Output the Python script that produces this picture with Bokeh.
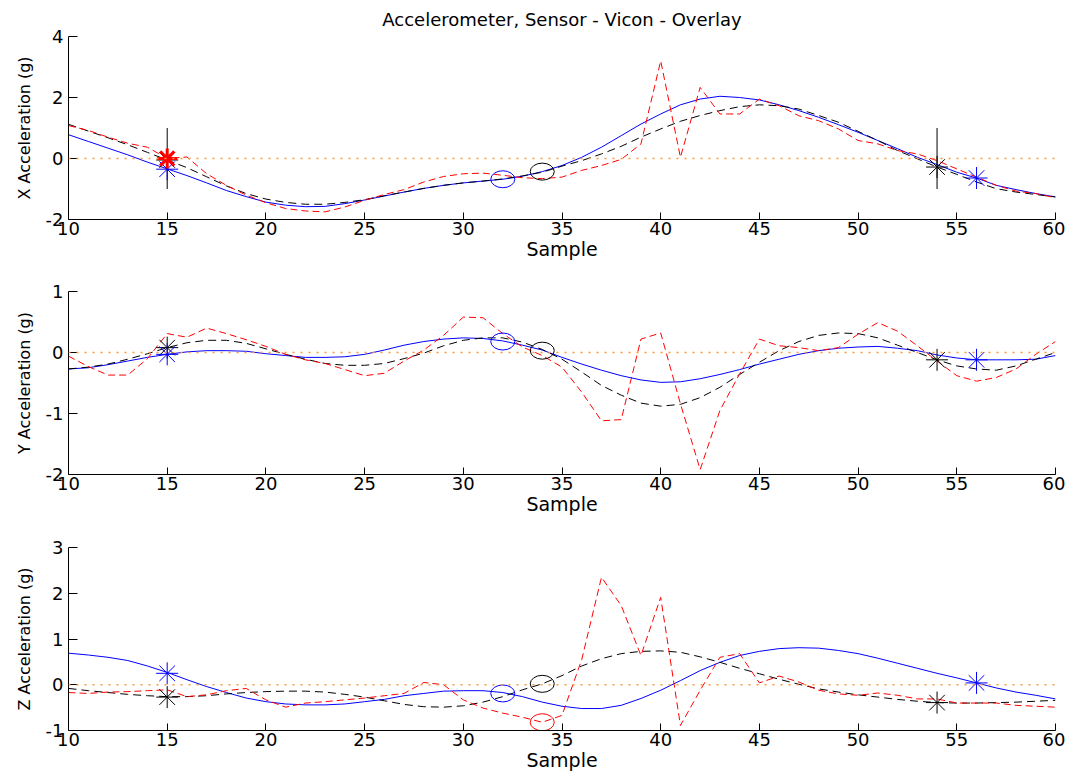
from bokeh.plotting import figure
from bokeh.layouts import column
from bokeh.models import Range1d, FixedTicker, Span
from bokeh.embed import file_html
from bokeh.resources import INLINE

# ---------------- data ----------------
samples = list(range(10, 61))

# X acceleration
x_sensor = [0.78, 0.56, 0.34, 0.12, -0.12, -0.34, -0.56, -0.8, -1.05, -1.25, -1.43, -1.53, -1.58, -1.57,
            -1.48, -1.36, -1.23, -1.1, -0.98, -0.88, -0.8, -0.74, -0.68, -0.58,
            -0.43, -0.23, 0.04, 0.37, 0.75, 1.13, 1.46, 1.76, 1.95, 2.04, 2.0, 1.92, 1.76, 1.57, 1.35,
            1.11, 0.86, 0.59, 0.32, 0.04, -0.2, -0.45, -0.64, -0.88, -1.02, -1.15, -1.26]
x_vicon = [1.12, 0.9, 0.68, 0.45, 0.2, -0.05, -0.3, -0.6, -0.9, -1.15, -1.33, -1.44, -1.5, -1.5,
           -1.44, -1.35, -1.22, -1.1, -0.98, -0.88, -0.8, -0.74, -0.67, -0.57,
           -0.45, -0.25, -0.07, 0.15, 0.4, 0.7, 0.97, 1.22, 1.41, 1.57, 1.7, 1.76, 1.73, 1.62, 1.41,
           1.19, 0.89, 0.59, 0.26, -0.01, -0.28, -0.52, -0.77, -0.99, -1.1, -1.18, -1.26]
x_raw = [1.08, 0.92, 0.7, 0.5, 0.37, 0.0, 0.05, -0.5, -0.88, -1.2, -1.45, -1.64, -1.72, -1.75,
         -1.59, -1.37, -1.18, -1.02, -0.77, -0.59, -0.5, -0.48, -0.55, -0.63,
         -0.66, -0.61, -0.39, -0.23, -0.03, 0.48, 3.2, 0.04, 2.33, 1.46, 1.46, 1.95, 1.73, 1.4, 1.24,
         0.97, 0.59, 0.48, 0.26, 0.15, -0.07, -0.34, -0.61, -0.88, -1.07, -1.15, -1.29]

# Y acceleration
y_sensor = [-0.27, -0.25, -0.2, -0.14, -0.08, -0.03, 0.01, 0.03, 0.03, 0.02, -0.02, -0.05, -0.08, -0.08,
            -0.07, -0.03, 0.04, 0.12, 0.18, 0.22, 0.24, 0.23, 0.19, 0.12,
            0.04, -0.08, -0.19, -0.29, -0.38, -0.45, -0.49, -0.48, -0.43, -0.36, -0.28, -0.19, -0.11,
            -0.03, 0.03, 0.07, 0.09, 0.1, 0.07, 0.03, -0.04, -0.09, -0.12, -0.12, -0.12, -0.11, -0.05]
y_vicon = [-0.27, -0.24, -0.19, -0.11, -0.02, 0.08, 0.16, 0.2, 0.2, 0.15, 0.06, -0.03, -0.11, -0.18,
           -0.21, -0.21, -0.18, -0.1, -0.01, 0.11, 0.2, 0.24, 0.24, 0.17,
           0.05, -0.11, -0.32, -0.54, -0.7, -0.83, -0.88, -0.85, -0.74, -0.57, -0.36, -0.16, 0.03,
           0.18, 0.28, 0.32, 0.31, 0.24, 0.12, 0.0, -0.12, -0.22, -0.27, -0.29, -0.22, -0.11, 0.0]
y_raw = [-0.06, -0.23, -0.37, -0.37, -0.1, 0.31, 0.25, 0.4, 0.31, 0.21, 0.1, -0.03, -0.12, -0.18,
         -0.28, -0.38, -0.34, -0.14, 0.04, 0.28, 0.58, 0.57, 0.31, 0.09,
         -0.05, -0.24, -0.65, -1.12, -1.1, 0.22, 0.32, -0.84, -1.92, -0.95, -0.35, 0.22, 0.11,
         0.08, 0.03, 0.08, 0.3, 0.49, 0.35, 0.11, -0.14, -0.38, -0.47, -0.41, -0.27, -0.03, 0.18]

# Z acceleration
z_sensor = [0.69, 0.65, 0.6, 0.53, 0.41, 0.27, 0.11, -0.04, -0.17, -0.29, -0.37, -0.42, -0.44, -0.44,
            -0.42, -0.37, -0.32, -0.24, -0.19, -0.14, -0.13, -0.13, -0.17, -0.26,
            -0.38, -0.47, -0.52, -0.52, -0.45, -0.3, -0.12, 0.09, 0.31, 0.49, 0.64, 0.73, 0.79, 0.81,
            0.8, 0.75, 0.68, 0.58, 0.47, 0.36, 0.25, 0.15, 0.04, -0.07, -0.16, -0.23, -0.31]
z_vicon = [-0.08, -0.13, -0.17, -0.21, -0.24, -0.26, -0.26, -0.24, -0.2, -0.17, -0.15, -0.14, -0.14,
           -0.16, -0.21, -0.27, -0.35, -0.43, -0.48, -0.49, -0.46, -0.38, -0.26, -0.11,
           0.02, 0.2, 0.41, 0.57, 0.68, 0.73, 0.74, 0.71, 0.61, 0.49, 0.36, 0.24, 0.12, 0.01, -0.09,
           -0.16, -0.22, -0.27, -0.32, -0.36, -0.39, -0.4, -0.4, -0.39, -0.38, -0.36, -0.34]
z_raw = [-0.17, -0.19, -0.16, -0.15, -0.13, -0.11, -0.26, -0.22, -0.13, -0.08, -0.33, -0.49, -0.4,
         -0.37, -0.33, -0.29, -0.24, -0.19, 0.05, 0.0, -0.33, -0.51, -0.62, -0.71,
         -0.82, -0.67, 0.55, 2.35, 1.73, 0.64, 1.91, -0.89, -0.12, 0.6, 0.68, 0.04, 0.19, 0.06,
         -0.12, -0.2, -0.23, -0.18, -0.23, -0.31, -0.31, -0.4, -0.4, -0.4, -0.45, -0.47, -0.49]

# event markers (sample index, value)
x_blue_star = ([15, 56], [-0.35, -0.64])
x_black_star = ([15, 54], [-0.05, -0.28])
x_red_star = ([15], [0.0])
x_blue_circ = ([32], [-0.68])
x_black_circ = ([34], [-0.43])
x_red_circ = ([], [])
x_vlines = [15, 54]

y_blue_star = ([15, 56], [-0.03, -0.12])
y_black_star = ([15, 54], [0.08, -0.12])
y_red_star = ([], [])
y_blue_circ = ([32], [0.18])
y_black_circ = ([34], [0.03])
y_red_circ = ([], [])

z_blue_star = ([15, 56], [0.25, 0.04])
z_black_star = ([15, 54], [-0.27, -0.39])
z_red_star = ([], [])
z_blue_circ = ([32], [-0.19])
z_black_circ = ([34], [0.02])
z_red_circ = ([34], [-0.82])

x_ticks = [10, 15, 20, 25, 30, 35, 40, 45, 50, 55, 60]
title_text = "Accelerometer, Sensor - Vicon - Overlay"
FONT = "DejaVu Sans"


def panel(ylabel, yr, yticks, sensor, vicon, raw, bstar, kstar, rstar, bcirc, kcirc, rcirc,
          top, bottom, title=None, vlines=None):
    p = figure(frame_width=987, frame_height=183, output_backend="svg", toolbar_location=None,
               x_range=Range1d(10, 60), y_range=Range1d(*yr),
               min_border_left=68, min_border_right=10, min_border_top=top, min_border_bottom=bottom,
               title=title)
    p.outline_line_color = None
    p.grid.visible = False
    p.background_fill_color = "white"
    if title:
        p.title.align = "center"
        p.title.text_font = FONT
        p.title.text_font_size = "18px"
        p.title.text_font_style = "normal"
        p.title.text_color = "black"
        p.title.standoff = 10
        p.title.vertical_align = "top"
    p.add_layout(Span(location=0, dimension="width", line_color="#FF9933",
                      line_dash="2 6", line_width=1.5))
    p.line(samples, sensor, line_color="#0000FF", line_width=1)
    p.line(samples, vicon, line_color="black", line_width=1, line_dash="8 5")
    p.line(samples, raw, line_color="#FF0000", line_width=1, line_dash="7 4")
    if vlines:
        p.segment(x0=vlines, y0=[-1] * len(vlines), x1=vlines, y1=[1] * len(vlines),
                  line_color="black", line_width=1)
    p.scatter(kstar[0], kstar[1], marker="asterisk", size=22, line_color="black", line_width=1)
    p.scatter(bstar[0], bstar[1], marker="asterisk", size=22, line_color="#0000FF", line_width=1)
    if rstar[0]:
        p.scatter(rstar[0], rstar[1], marker="asterisk", size=20, line_color="#FF0000", line_width=3)
    for c, col in ((bcirc, "#0000FF"), (kcirc, "black"), (rcirc, "#FF0000")):
        if c[0]:
            p.ellipse(c[0], c[1], width=24, height=17, width_units="screen", height_units="screen",
                      fill_color=None, line_color=col, line_width=1)
    for ax in (p.xaxis[0], p.yaxis[0]):
        ax.axis_line_color = "black"
        ax.major_tick_line_color = "black"
        ax.minor_tick_line_color = None
        ax.major_tick_out = 0
        ax.major_label_text_font = FONT
        ax.major_label_text_font_size = "18px"
        ax.major_label_text_color = "black"
        ax.axis_label_text_font = FONT
        ax.axis_label_text_font_style = "normal"
        ax.axis_label_text_color = "black"
    p.xaxis.ticker = FixedTicker(ticks=x_ticks)
    p.xaxis.major_tick_in = 7
    p.xaxis.major_label_standoff = 2
    p.xaxis.axis_label = "Sample"
    p.xaxis.axis_label_text_font_size = "19px"
    p.xaxis.axis_label_standoff = 0
    p.yaxis.ticker = FixedTicker(ticks=yticks)
    p.yaxis.major_tick_in = 9
    p.yaxis.major_label_standoff = 5
    p.yaxis.axis_label = ylabel
    p.yaxis.axis_label_text_font_size = "16px"
    p.yaxis.axis_label_standoff = 9
    p.yaxis.major_label_overrides = {t: str(t).replace("\u2212", "-") for t in yticks}
    return p


p1 = panel("X Acceleration (g)", (-2, 4), [-2, 0, 2, 4], x_sensor, x_vicon, x_raw,
           x_blue_star, x_black_star, x_red_star, x_blue_circ, x_black_circ, x_red_circ,
           top=36, bottom=44, title=title_text, vlines=x_vlines)
p2 = panel("Y Acceleration (g)", (-2, 1), [-2, -1, 0, 1], y_sensor, y_vicon, y_raw,
           y_blue_star, y_black_star, y_red_star, y_blue_circ, y_black_circ, y_red_circ,
           top=28, bottom=45)
p3 = panel("Z Acceleration (g)", (-1, 3), [-1, 0, 1, 2, 3], z_sensor, z_vicon, z_raw,
           z_blue_star, z_black_star, z_red_star, z_blue_circ, z_black_circ, z_red_circ,
           top=28, bottom=40)

layout = column(p1, p2, p3, spacing=0)
open("out.html", "w").write(file_html(layout, INLINE))
